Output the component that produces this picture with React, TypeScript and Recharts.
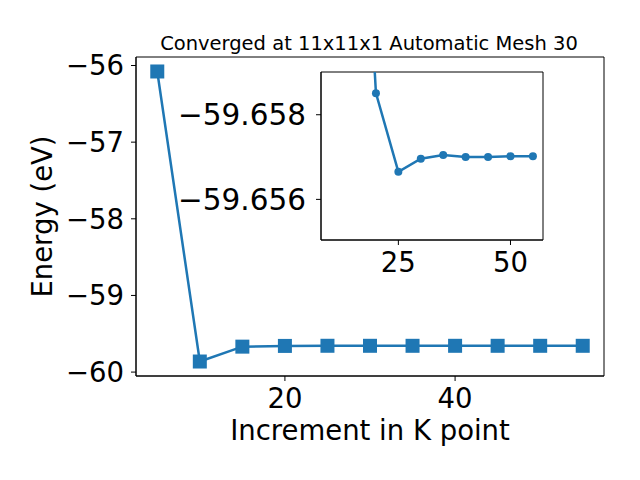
import React from "react";
import {
  LineChart,
  Line,
  XAxis,
  YAxis,
  ReferenceArea,
} from "recharts";

// k-point increments and total energies (eV)
const kPoints = [5, 10, 15, 20, 25, 30, 35, 40, 45, 50, 55];
const energies = [
  -56.078, -59.862, -59.668, -59.65851, -59.65665, -59.65696, -59.65705,
  -59.657, -59.657, -59.65702, -59.65702,
];

const mainXTicks = [20, 40];
const mainYTicks = [-60, -59, -58, -57, -56];
const insetXTicks = [25, 50];
const insetYTicks = [-59.658, -59.656];

const mainXDomain = [2.5, 57.5];
const mainYDomain = [-60.051, -55.889];
const insetXDomain = [7.75, 57.25];
const insetYDomain = [-59.65901, -59.65504];

const data = kPoints.map((k, i) => ({ k, e: energies[i] }));
const insetData = data.slice(1);

const BLUE = "#1f77b4";
const FONT = "DejaVu Sans";

const minus = (v: number, digits: number) =>
  (v < 0 ? "\u2212" : "") + Math.abs(v).toFixed(digits);

const SquareDot = (props: any) => {
  const { cx, cy, index } = props;
  if (cx == null || cy == null) return <g key={index} />;
  return (
    <rect key={index} x={cx - 7} y={cy - 7} width={14} height={14} fill={BLUE} />
  );
};

export default function App() {
  const tickStyle = { fill: "#000", fontSize: 27.5, fontFamily: FONT };
  return (
    <div style={{ position: "absolute", left: 0, top: 0, width: 640, height: 480, background: "#fff" }}>
      <div style={{ position: "absolute", left: 0, top: 0 }}>
        <LineChart
          width={640}
          height={480}
          data={data}
          margin={{ top: 57, right: 36, left: 0, bottom: 0 }}
        >
          <XAxis
            type="number"
            dataKey="k"
            domain={mainXDomain}
            ticks={mainXTicks}
            interval={0}
            height={104}
            stroke="#000"
            tickSize={5}
            tickMargin={7}
            tick={tickStyle}
            label={{
              value: "Increment in K point",
              position: "insideBottom",
              offset: 40,
              style: { fill: "#000", fontSize: 27.5, fontFamily: FONT },
            }}
          />
          <YAxis
            type="number"
            domain={mainYDomain}
            ticks={mainYTicks}
            interval={0}
            width={136}
            stroke="#000"
            tickSize={5}
            tickMargin={7}
            tick={tickStyle}
            tickFormatter={(v: number) => minus(v, 0)}
            label={{
              value: "Energy (eV)",
              angle: -90,
              position: "insideLeft",
              offset: 42,
              style: { fill: "#000", fontSize: 27.5, fontFamily: FONT, textAnchor: "middle" },
            }}
          />
          <ReferenceArea
            x1={mainXDomain[0]}
            x2={mainXDomain[1]}
            y1={mainYDomain[0]}
            y2={mainYDomain[1]}
            fill="none"
            stroke="#000"
            strokeWidth={1}
          />
          <Line
            type="linear"
            dataKey="e"
            stroke={BLUE}
            strokeWidth={2.5}
            dot={SquareDot}
            activeDot={false}
            isAnimationActive={false}
          />
        </LineChart>
      </div>
      <div style={{ position: "absolute", left: 0, top: 0 }}>
        <LineChart
          width={640}
          height={480}
          data={insetData}
          margin={{ top: 72, right: 97, left: 0, bottom: 0 }}
        >
          <XAxis
            type="number"
            dataKey="k"
            domain={insetXDomain}
            allowDataOverflow
            ticks={insetXTicks}
            interval={0}
            height={240}
            stroke="#000"
            tickSize={5}
            tickMargin={7}
            tick={tickStyle}
          />
          <YAxis
            type="number"
            domain={insetYDomain}
            allowDataOverflow
            reversed
            ticks={insetYTicks}
            interval={0}
            width={321}
            stroke="#000"
            tickSize={5}
            tickMargin={10}
            tick={{ ...tickStyle, fontSize: 29.5 }}
            tickFormatter={(v: number) => minus(v, 3)}
          />
          <ReferenceArea
            x1={insetXDomain[0]}
            x2={insetXDomain[1]}
            y1={insetYDomain[0]}
            y2={insetYDomain[1]}
            fill="none"
            stroke="#000"
            strokeWidth={1}
          />
          <Line
            type="linear"
            dataKey="e"
            stroke={BLUE}
            strokeWidth={2.5}
            dot={{ r: 4, fill: BLUE, stroke: BLUE, strokeWidth: 0 }}
            activeDot={false}
            isAnimationActive={false}
          />
        </LineChart>
      </div>
      <svg
        width={640}
        height={60}
        style={{ position: "absolute", left: 0, top: 0 }}
      >
        <text
          x={369}
          y={50}
          textAnchor="middle"
          fontFamily={FONT}
          fontSize={19.5}
          fill="#000"
        >
          Converged at 11x11x1 Automatic Mesh 30
        </text>
      </svg>
    </div>
  );
}
